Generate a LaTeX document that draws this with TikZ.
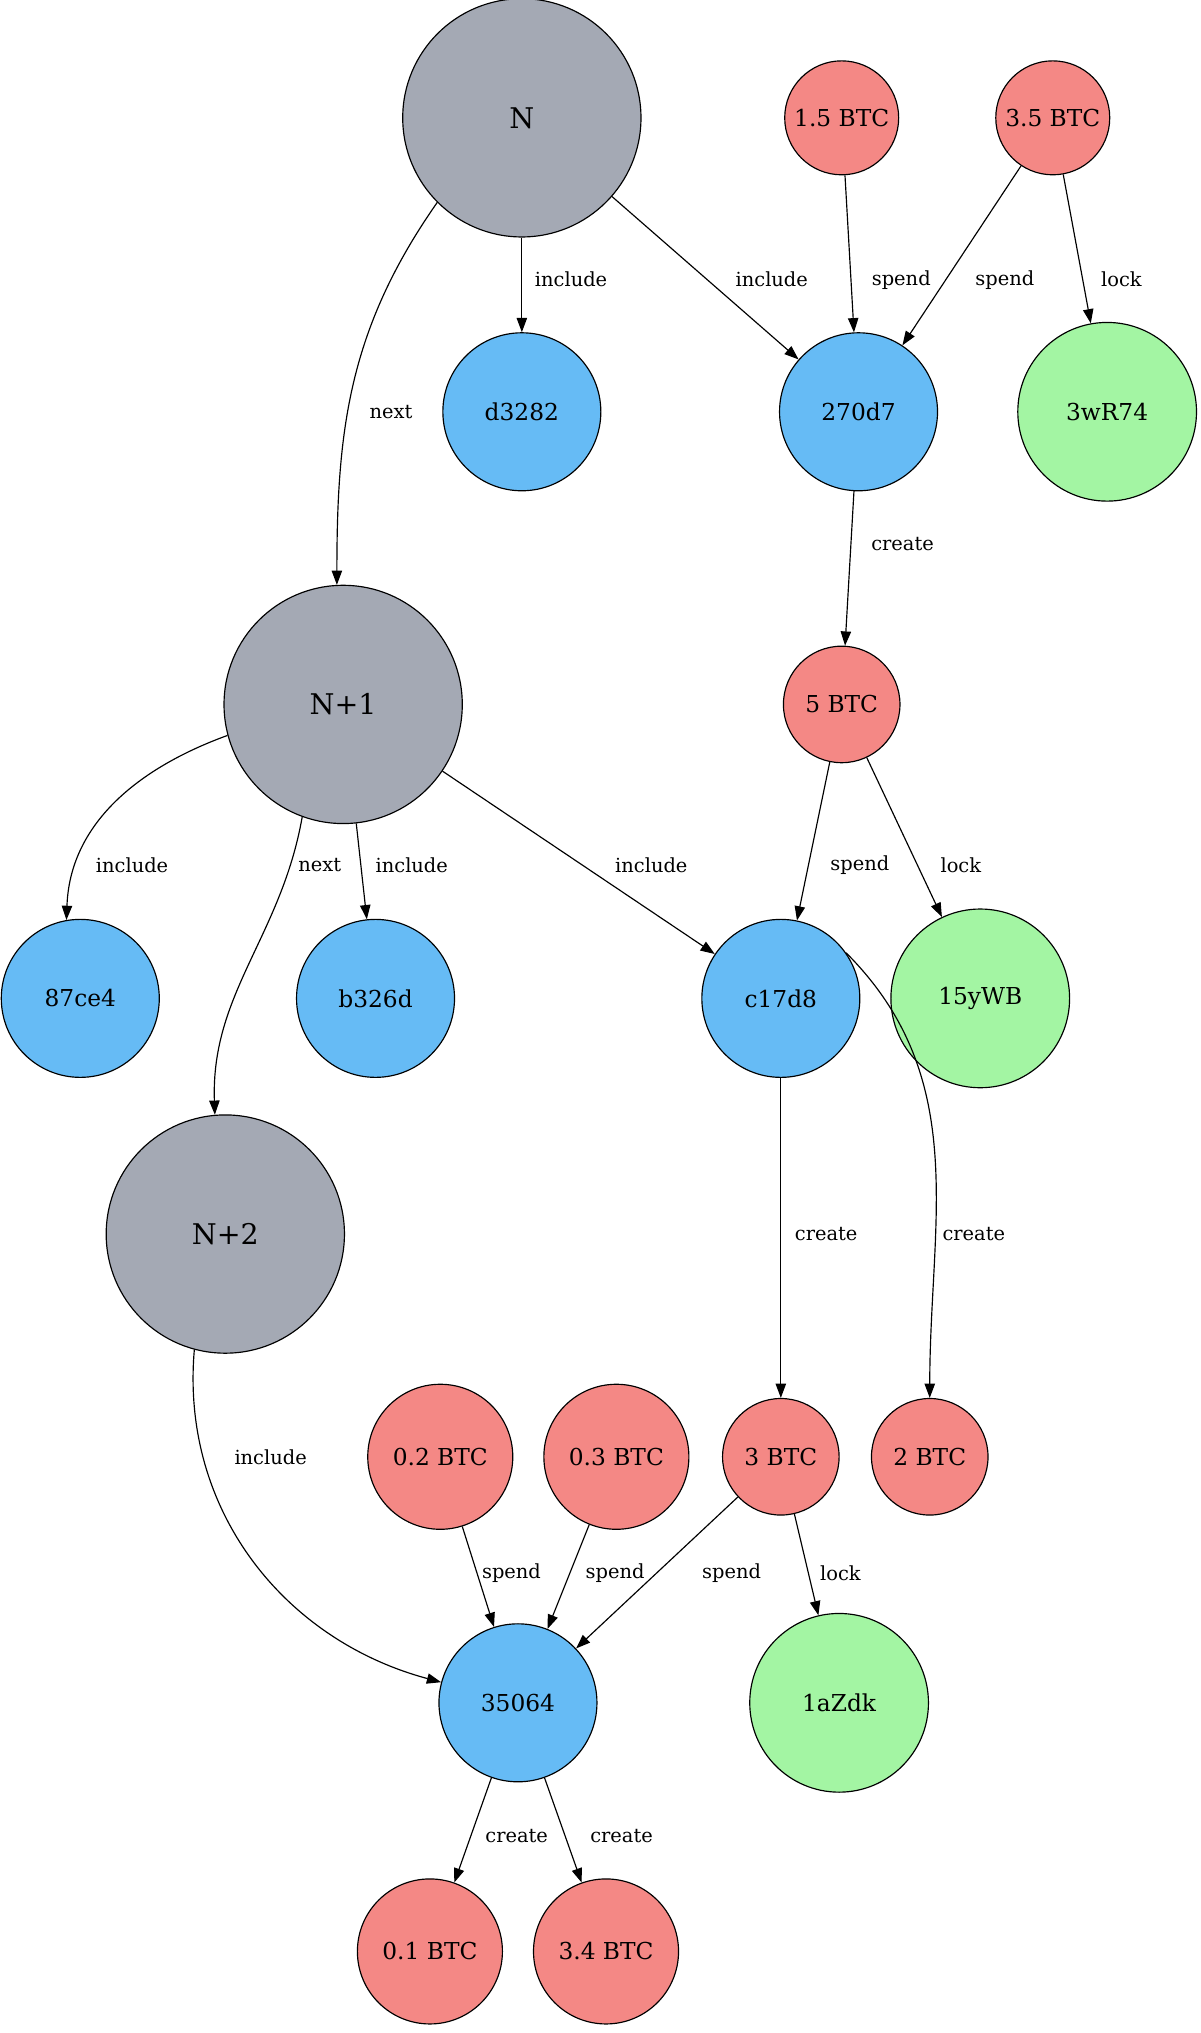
\documentclass[tikz,border=0pt]{standalone}
\usepackage{fontspec}
\setmainfont{DejaVu Serif}
\usetikzlibrary{arrows.meta}
\definecolor{gblk}{HTML}{A4A9B4}
\definecolor{gtx}{HTML}{66BBF5}
\definecolor{gbtc}{HTML}{F48885}
\definecolor{gadr}{HTML}{A3F5A3}
\begin{document}
\begin{tikzpicture}[x=1pt,y=-1pt,
 base/.style={circle,draw=black,line width=0.9pt,inner sep=0pt},
 blk/.style={base,fill=gblk,minimum size=184pt,font=\fontsize{22}{24}\selectfont},
 tx/.style={base,fill=gtx,minimum size=122pt,font=\fontsize{18}{20}\selectfont},
 btc/.style={base,fill=gbtc,font=\fontsize{18}{20}\selectfont},
 adr/.style={base,fill=gadr,minimum size=138pt,font=\fontsize{18}{20}\selectfont},
 lb/.style={font=\fontsize{15}{17}\selectfont,inner sep=1pt},
 e/.style={draw,line width=0.9pt,-{Triangle[length=11pt,width=8pt]}}]
\useasboundingbox (0,0) rectangle (927,1570);
\node[blk] (N) at (403,91) {N};
\node[btc,minimum size=88pt] (a15) at (650,91) {1.5 BTC};
\node[btc,minimum size=88pt] (a35) at (813,91) {3.5 BTC};
\node[tx] (d3282) at (403,318) {d3282};
\node[tx] (t270) at (663,318) {270d7};
\node[adr] (w3) at (855,318) {3wR74};
\node[blk] (N1) at (265,544) {N+1};
\node[btc,minimum size=90pt] (b5) at (650,544) {5 BTC};
\node[tx] (t87) at (62,771) {87ce4};
\node[tx] (tb3) at (290,771) {b326d};
\node[tx] (tc1) at (603,771) {c17d8};
\node[adr] (w15) at (757,771) {15yWB};
\node[blk] (N2) at (174,953) {N+2};
\node[btc,minimum size=112pt] (b02) at (340,1125) {0.2 BTC};
\node[btc,minimum size=112pt] (b03) at (476,1125) {0.3 BTC};
\node[btc,minimum size=90pt] (b3) at (603,1125) {3 BTC};
\node[btc,minimum size=90pt] (b2) at (718,1125) {2 BTC};
\node[tx] (t35) at (400,1315) {35064};
\node[adr] (w1a) at (648,1315) {1aZdk};
\node[btc,minimum size=112pt] (b01) at (332,1507) {0.1 BTC};
\node[btc,minimum size=112pt] (b34) at (468,1507) {3.4 BTC};

\path[e] (N) -- (d3282);
\path[e] (N) -- (t270);
\path[e] (a15) -- (t270);
\path[e] (a35) -- (t270);
\path[e] (a35) -- (w3);
\path[e] (N.225) to[out=-125,in=90] (N1.93);
\path[e] (t270) -- (b5);
\path[e] (N1.195) to[out=200,in=88] (t87.100);
\path[e] (N1.250) to[out=-100,in=92] (N2.95);
\path[e] (N1) -- (tb3);
\path[e] (N1) -- (tc1);
\path[e] (b5) -- (tc1);
\path[e] (b5) -- (w15);
\path[e] (tc1) -- (b3);
\path[e] (tc1.35) to[out=-45,in=90] (b2.90);
\path[e] (N2.255) to[out=-95,in=165] (t35.165);
\path[e] (b02) -- (t35);
\path[e] (b03) -- (t35);
\path[e] (b3) -- (t35);
\path[e] (b3) -- (w1a);
\path[e] (t35) -- (b01);
\path[e] (t35) -- (b34);

\node[lb] at (441,216) {include};
\node[lb] at (596,216) {include};
\node[lb] at (696,216) {spend};
\node[lb] at (776,216) {spend};
\node[lb] at (866,216) {lock};
\node[lb] at (302,318) {next};
\node[lb] at (697,420) {create};
\node[lb] at (102,668) {include};
\node[lb] at (247,668) {next};
\node[lb] at (318,668) {include};
\node[lb] at (503,668) {include};
\node[lb] at (664,668) {spend};
\node[lb] at (742,668) {lock};
\node[lb] at (638,953) {create};
\node[lb] at (752,953) {create};
\node[lb] at (209,1125) {include};
\node[lb] at (395,1215) {spend};
\node[lb] at (475,1215) {spend};
\node[lb] at (565,1215) {spend};
\node[lb] at (649,1215) {lock};
\node[lb] at (399,1418) {create};
\node[lb] at (480,1418) {create};
\end{tikzpicture}
\end{document}
